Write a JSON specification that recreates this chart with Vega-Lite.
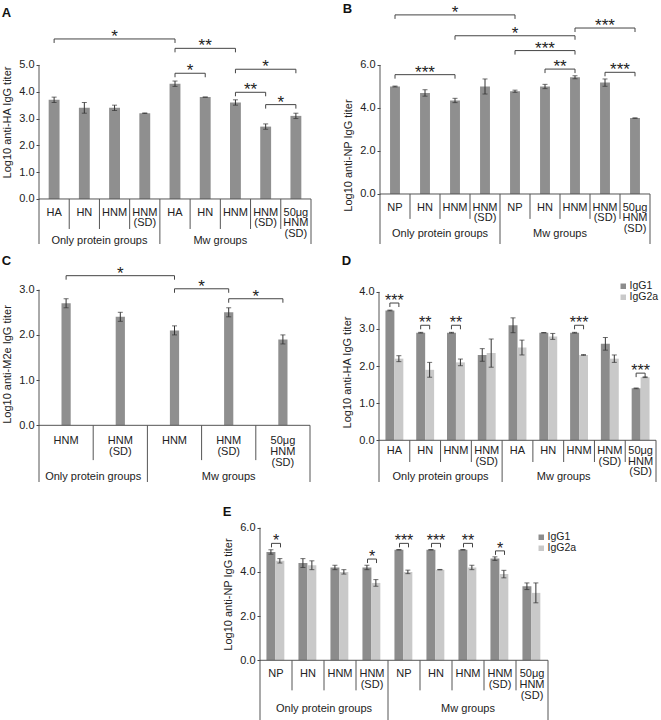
{
"$schema": "https://vega.github.io/schema/vega-lite/v6.json",
"padding": {"left": 1, "top": 2, "right": 0, "bottom": 0},
"config": {
  "font": "Liberation Sans",
  "view": {"stroke": null},
  "axis": {"labelFontSize": 11, "titleFontSize": 11, "titleFontWeight": "normal", "labelColor": "#222", "titleColor": "#222", "tickColor": "#444", "domain": false, "grid": false, "tickSize": 3, "labelPadding": 2, "titlePadding": 6},
  "text": {"color": "#222", "font": "Liberation Sans"},
  "title": {"fontSize": 13, "fontWeight": "bold", "color": "#111", "anchor": "start", "frame": "bounds", "offset": -12},
  "legend": {"labelFontSize": 10.5, "labelColor": "#222"}
},
"resolve": {"scale": {"color": "independent"}, "legend": {"color": "independent"}},
"datasets": {
  "A": [
    {"cat": "HA_p", "label": "HA", "group": "Only protein groups", "value": 3.7, "err": 0.1},
    {"cat": "HN_p", "label": "HN", "group": "Only protein groups", "value": 3.4, "err": 0.2},
    {"cat": "HNM_p", "label": "HNM", "group": "Only protein groups", "value": 3.4, "err": 0.1},
    {"cat": "HNMSD_p", "label": "HNM|(SD)", "group": "Only protein groups", "value": 3.2, "err": 0.01},
    {"cat": "HA_m", "label": "HA", "group": "Mw groups", "value": 4.3, "err": 0.1},
    {"cat": "HN_m", "label": "HN", "group": "Mw groups", "value": 3.8, "err": 0},
    {"cat": "HNM_m", "label": "HNM", "group": "Mw groups", "value": 3.6, "err": 0.1},
    {"cat": "HNMSD_m", "label": "HNM|(SD)", "group": "Mw groups", "value": 2.7, "err": 0.1},
    {"cat": "HNM50_m", "label": "50μg|HNM|(SD)", "group": "Mw groups", "value": 3.1, "err": 0.1}
  ],
  "A_br": [
    {"from": 0, "to": 4, "y": 5.97, "s": "*"},
    {"from": 4, "to": 6, "y": 5.62, "s": "**"},
    {"from": 4, "to": 5, "y": 4.69, "s": "*"},
    {"from": 6, "to": 8, "y": 4.84, "s": "*"},
    {"from": 6, "to": 7, "y": 3.98, "s": "**"},
    {"from": 7, "to": 8, "y": 3.52, "s": "*"}
  ],
  "B": [
    {"cat": "NP_p", "label": "NP", "group": "Only protein groups", "value": 5.0, "err": 0.02},
    {"cat": "HN_p", "label": "HN", "group": "Only protein groups", "value": 4.7, "err": 0.15},
    {"cat": "HNM_p", "label": "HNM", "group": "Only protein groups", "value": 4.35, "err": 0.1},
    {"cat": "HNMSD_p", "label": "HNM|(SD)", "group": "Only protein groups", "value": 5.0, "err": 0.35},
    {"cat": "NP_m", "label": "NP", "group": "Mw groups", "value": 4.78, "err": 0.05},
    {"cat": "HN_m", "label": "HN", "group": "Mw groups", "value": 5.0, "err": 0.1},
    {"cat": "HNM_m", "label": "HNM", "group": "Mw groups", "value": 5.43, "err": 0.07},
    {"cat": "HNMSD_m", "label": "HNM|(SD)", "group": "Mw groups", "value": 5.18, "err": 0.17},
    {"cat": "HNM50_m", "label": "50μg|HNM|(SD)", "group": "Mw groups", "value": 3.53, "err": 0.01}
  ],
  "B_br": [
    {"from": 0, "to": 4, "y": 8.33, "s": "*"},
    {"from": 2, "to": 6, "y": 7.36, "s": "*"},
    {"from": 6, "to": 8, "y": 7.72, "s": "***"},
    {"from": 4, "to": 6, "y": 6.67, "s": "***"},
    {"from": 5, "to": 6, "y": 5.81, "s": "**"},
    {"from": 7, "to": 8, "y": 5.66, "s": "***"},
    {"from": 0, "to": 2, "y": 5.55, "s": "***"}
  ],
  "C": [
    {"cat": "HNM_p", "label": "HNM", "group": "Only protein groups", "value": 2.7, "err": 0.1},
    {"cat": "HNMSD_p", "label": "HNM|(SD)", "group": "Only protein groups", "value": 2.4, "err": 0.1},
    {"cat": "HNM_m", "label": "HNM", "group": "Mw groups", "value": 2.1, "err": 0.1},
    {"cat": "HNMSD_m", "label": "HNM|(SD)", "group": "Mw groups", "value": 2.5, "err": 0.1},
    {"cat": "HNM50_m", "label": "50μg|HNM|(SD)", "group": "Mw groups", "value": 1.9, "err": 0.1}
  ],
  "C_br": [
    {"from": 0, "to": 2, "y": 3.31, "s": "*"},
    {"from": 2, "to": 3, "y": 3.02, "s": "*"},
    {"from": 3, "to": 4, "y": 2.8, "s": "*"}
  ],
  "D": [
    {"cat": "HA_p", "label": "HA", "group": "Only protein groups", "iso": "IgG1", "value": 3.5, "err": 0.01},
    {"cat": "HA_p", "label": "HA", "group": "Only protein groups", "iso": "IgG2a", "value": 2.2, "err": 0.08},
    {"cat": "HN_p", "label": "HN", "group": "Only protein groups", "iso": "IgG1", "value": 2.9, "err": 0.01},
    {"cat": "HN_p", "label": "HN", "group": "Only protein groups", "iso": "IgG2a", "value": 1.9, "err": 0.2},
    {"cat": "HNM_p", "label": "HNM", "group": "Only protein groups", "iso": "IgG1", "value": 2.9, "err": 0.01},
    {"cat": "HNM_p", "label": "HNM", "group": "Only protein groups", "iso": "IgG2a", "value": 2.1, "err": 0.09},
    {"cat": "HNMSD_p", "label": "HNM|(SD)", "group": "Only protein groups", "iso": "IgG1", "value": 2.3, "err": 0.17},
    {"cat": "HNMSD_p", "label": "HNM|(SD)", "group": "Only protein groups", "iso": "IgG2a", "value": 2.35, "err": 0.38},
    {"cat": "HA_m", "label": "HA", "group": "Mw groups", "iso": "IgG1", "value": 3.1, "err": 0.2},
    {"cat": "HA_m", "label": "HA", "group": "Mw groups", "iso": "IgG2a", "value": 2.5, "err": 0.2},
    {"cat": "HN_m", "label": "HN", "group": "Mw groups", "iso": "IgG1", "value": 2.9, "err": 0.005},
    {"cat": "HN_m", "label": "HN", "group": "Mw groups", "iso": "IgG2a", "value": 2.8, "err": 0.08},
    {"cat": "HNM_m", "label": "HNM", "group": "Mw groups", "iso": "IgG1", "value": 2.9, "err": 0.01},
    {"cat": "HNM_m", "label": "HNM", "group": "Mw groups", "iso": "IgG2a", "value": 2.3, "err": 0.01},
    {"cat": "HNMSD_m", "label": "HNM|(SD)", "group": "Mw groups", "iso": "IgG1", "value": 2.6, "err": 0.17},
    {"cat": "HNMSD_m", "label": "HNM|(SD)", "group": "Mw groups", "iso": "IgG2a", "value": 2.2, "err": 0.1},
    {"cat": "HNM50_m", "label": "50μg|HNM|(SD)", "group": "Mw groups", "iso": "IgG1", "value": 1.4, "err": 0.01},
    {"cat": "HNM50_m", "label": "50μg|HNM|(SD)", "group": "Mw groups", "iso": "IgG2a", "value": 1.7, "err": 0.01}
  ],
  "D_br": [
    {"i": 0, "y": 3.7, "s": "***"},
    {"i": 1, "y": 3.1, "s": "**"},
    {"i": 2, "y": 3.1, "s": "**"},
    {"i": 6, "y": 3.1, "s": "***"},
    {"i": 8, "y": 1.81, "s": "***"}
  ],
  "E": [
    {"cat": "NP_p", "label": "NP", "group": "Only protein groups", "iso": "IgG1", "value": 4.9, "err": 0.1},
    {"cat": "NP_p", "label": "NP", "group": "Only protein groups", "iso": "IgG2a", "value": 4.5, "err": 0.1},
    {"cat": "HN_p", "label": "HN", "group": "Only protein groups", "iso": "IgG1", "value": 4.4, "err": 0.2},
    {"cat": "HN_p", "label": "HN", "group": "Only protein groups", "iso": "IgG2a", "value": 4.3, "err": 0.2},
    {"cat": "HNM_p", "label": "HNM", "group": "Only protein groups", "iso": "IgG1", "value": 4.2, "err": 0.1},
    {"cat": "HNM_p", "label": "HNM", "group": "Only protein groups", "iso": "IgG2a", "value": 4.0, "err": 0.1},
    {"cat": "HNMSD_p", "label": "HNM|(SD)", "group": "Only protein groups", "iso": "IgG1", "value": 4.2, "err": 0.1},
    {"cat": "HNMSD_p", "label": "HNM|(SD)", "group": "Only protein groups", "iso": "IgG2a", "value": 3.5, "err": 0.15},
    {"cat": "NP_m", "label": "NP", "group": "Mw groups", "iso": "IgG1", "value": 5.0, "err": 0.01},
    {"cat": "NP_m", "label": "NP", "group": "Mw groups", "iso": "IgG2a", "value": 4.0, "err": 0.08},
    {"cat": "HN_m", "label": "HN", "group": "Mw groups", "iso": "IgG1", "value": 5.0, "err": 0.01},
    {"cat": "HN_m", "label": "HN", "group": "Mw groups", "iso": "IgG2a", "value": 4.1, "err": 0.01},
    {"cat": "HNM_m", "label": "HNM", "group": "Mw groups", "iso": "IgG1", "value": 5.0, "err": 0.01},
    {"cat": "HNM_m", "label": "HNM", "group": "Mw groups", "iso": "IgG2a", "value": 4.2, "err": 0.1},
    {"cat": "HNMSD_m", "label": "HNM|(SD)", "group": "Mw groups", "iso": "IgG1", "value": 4.6, "err": 0.08},
    {"cat": "HNMSD_m", "label": "HNM|(SD)", "group": "Mw groups", "iso": "IgG2a", "value": 3.9, "err": 0.17},
    {"cat": "HNM50_m", "label": "50μg|HNM|(SD)", "group": "Mw groups", "iso": "IgG1", "value": 3.35, "err": 0.15},
    {"cat": "HNM50_m", "label": "50μg|HNM|(SD)", "group": "Mw groups", "iso": "IgG2a", "value": 3.05, "err": 0.45}
  ],
  "E_br": [
    {"i": 0, "y": 5.29, "s": "*"},
    {"i": 3, "y": 4.58, "s": "*"},
    {"i": 4, "y": 5.29, "s": "***"},
    {"i": 5, "y": 5.29, "s": "***"},
    {"i": 6, "y": 5.29, "s": "**"},
    {"i": 7, "y": 4.95, "s": "*"}
  ],
  "one": [{}]
},
"spacing": 5,
"vconcat": [
{
 "resolve": {"scale": {"color": "independent"}, "legend": {"color": "independent"}},
 "hconcat": [
 {
  "title": {"text": "A"},
  "width": 272, "height": 236,
  "resolve": {"scale": {"x": "independent"}},
  "layer": [
   {"layer": [
     {"data": {"name": "A"}, "mark": {"type": "bar", "width": {"band": 0.36}, "color": "#8f8f8f"},
      "encoding": {
        "x": {"field": "cat", "type": "nominal", "scale": {"domain": ["HA_p","HN_p","HNM_p","HNMSD_p","HA_m","HN_m","HNM_m","HNMSD_m","HNM50_m"], "paddingInner": 0, "paddingOuter": 0}, "axis": null},
        "y": {"field": "value", "type": "quantitative", "scale": {"domain": [-1.68, 7.125], "nice": false, "zero": false}, "axis": {"title": "Log10 anti-HA IgG titer", "values": [0,0.5,1,1.5,2,2.5,3,3.5,4,4.5,5], "format": ".1f", "titleY": 114}}}},
     {"data": {"name": "A"}, "mark": {"type": "errorbar", "ticks": {"size": 5}, "color": "#333"},
      "encoding": {"x": {"field": "cat", "type": "nominal"}, "y": {"field": "value", "type": "quantitative", "title": "Log10 anti-HA IgG titer"}, "yError": {"field": "err"}}},
     {"data": {"name": "one"}, "mark": {"type": "rule", "color": "#555"}, "encoding": {"y": {"datum": 0}}},
     {"data": {"name": "A"}, "transform": [{"window": [{"op": "row_number", "as": "rn"}]}, {"filter": "datum.rn == 1"}],
      "mark": {"type": "rule", "color": "#555"},
      "encoding": {"x": {"field": "cat", "type": "nominal", "bandPosition": 0}, "y": {"datum": 5}, "y2": {"datum": -1.68}}},
     {"data": {"name": "A"}, "transform": [{"window": [{"op": "row_number", "as": "g"}], "groupby": ["group"]}, {"filter": "datum.g > 1"}],
      "mark": {"type": "rule", "color": "#555"},
      "encoding": {"x": {"field": "cat", "type": "nominal", "bandPosition": 0}, "y": {"datum": 0}, "y2": {"datum": -1.12}}},
     {"data": {"name": "A"}, "transform": [{"window": [{"op": "row_number", "as": "rn"}]}, {"window": [{"op": "row_number", "as": "g"}], "groupby": ["group"]}, {"filter": "datum.g == 1 && datum.rn > 1"}],
      "mark": {"type": "rule", "color": "#555"},
      "encoding": {"x": {"field": "cat", "type": "nominal", "bandPosition": 0}, "y": {"datum": 0}, "y2": {"datum": -1.68}}},
     {"data": {"name": "A"}, "transform": [{"window": [{"op": "row_number", "as": "rn"}]}, {"joinaggregate": [{"op": "count", "as": "n"}]}, {"filter": "datum.rn == datum.n"}],
      "mark": {"type": "rule", "color": "#555"},
      "encoding": {"x": {"field": "cat", "type": "nominal", "bandPosition": 1}, "y": {"datum": 0}, "y2": {"datum": -1.68}}},
     {"data": {"name": "A"}, "mark": {"type": "text", "baseline": "top", "dy": 8, "lineBreak": "|", "lineHeight": 10.5, "fontSize": 11},
      "encoding": {"x": {"field": "cat", "type": "nominal"}, "y": {"datum": 0}, "text": {"field": "label"}}}
   ]},
   {"layer": [
     {"data": {"name": "A_br"}, "mark": {"type": "rule", "color": "#444"},
      "encoding": {"x": {"field": "from", "type": "quantitative", "scale": {"domain": [-0.5, 8.5], "nice": false, "zero": false}, "axis": null}, "x2": {"field": "to"}, "y": {"field": "y", "type": "quantitative"}}},
     {"data": {"name": "A_br"}, "transform": [{"fold": ["from", "to"], "as": ["k", "end"]}], "mark": {"type": "rule", "color": "#444", "y2Offset": 4},
      "encoding": {"x": {"field": "end", "type": "quantitative"}, "y": {"field": "y", "type": "quantitative"}, "y2": {"field": "y"}}},
     {"data": {"name": "A_br"}, "transform": [{"calculate": "(datum.from + datum.to) / 2", "as": "mid"}], "mark": {"type": "text", "fontSize": 17, "dy": 3, "baseline": "alphabetic"},
      "encoding": {"x": {"field": "mid", "type": "quantitative"}, "y": {"field": "y", "type": "quantitative"}, "text": {"field": "s"}}},
     {"data": {"name": "A"}, "transform": [{"window": [{"op": "row_number", "as": "rn"}]}, {"calculate": "datum.rn - 1", "as": "idx"}, {"filter": "datum.label != '50μg|HNM|(SD)'"}, {"aggregate": [{"op": "mean", "field": "idx", "as": "idx"}], "groupby": ["group"]}],
      "mark": {"type": "text", "fontSize": 11, "baseline": "middle"},
      "encoding": {"x": {"field": "idx", "type": "quantitative"}, "y": {"datum": -1.57}, "text": {"field": "group"}}}
   ]}
  ]
 },
 {
  "title": {"text": "B"},
  "width": 270, "height": 236,
  "resolve": {"scale": {"x": "independent"}},
  "layer": [
   {"layer": [
     {"data": {"name": "B"}, "mark": {"type": "bar", "width": {"band": 0.33}, "color": "#8f8f8f"},
      "encoding": {
        "x": {"field": "cat", "type": "nominal", "scale": {"domain": ["NP_p","HN_p","HNM_p","HNMSD_p","NP_m","HN_m","HNM_m","HNMSD_m","HNM50_m"], "paddingInner": 0, "paddingOuter": 0}, "axis": null},
        "y": {"field": "value", "type": "quantitative", "scale": {"domain": [-2.326, 8.651], "nice": false, "zero": false}, "axis": {"title": "Log10 anti-NP IgG titer", "values": [0,1,2,3,4,5,6], "format": ".1f", "titleY": 147}}}},
     {"data": {"name": "B"}, "mark": {"type": "errorbar", "ticks": {"size": 5}, "color": "#333"},
      "encoding": {"x": {"field": "cat", "type": "nominal"}, "y": {"field": "value", "type": "quantitative", "title": "Log10 anti-NP IgG titer"}, "yError": {"field": "err"}}},
     {"data": {"name": "one"}, "mark": {"type": "rule", "color": "#555"}, "encoding": {"y": {"datum": 0}}},
     {"data": {"name": "B"}, "transform": [{"window": [{"op": "row_number", "as": "rn"}]}, {"filter": "datum.rn == 1"}],
      "mark": {"type": "rule", "color": "#555"},
      "encoding": {"x": {"field": "cat", "type": "nominal", "bandPosition": 0}, "y": {"datum": 6}, "y2": {"datum": -2.326}}},
     {"data": {"name": "B"}, "transform": [{"window": [{"op": "row_number", "as": "g"}], "groupby": ["group"]}, {"filter": "datum.g > 1"}],
      "mark": {"type": "rule", "color": "#555"},
      "encoding": {"x": {"field": "cat", "type": "nominal", "bandPosition": 0}, "y": {"datum": 0}, "y2": {"datum": -1.16}}},
     {"data": {"name": "B"}, "transform": [{"window": [{"op": "row_number", "as": "rn"}]}, {"window": [{"op": "row_number", "as": "g"}], "groupby": ["group"]}, {"filter": "datum.g == 1 && datum.rn > 1"}],
      "mark": {"type": "rule", "color": "#555"},
      "encoding": {"x": {"field": "cat", "type": "nominal", "bandPosition": 0}, "y": {"datum": 0}, "y2": {"datum": -2.326}}},
     {"data": {"name": "B"}, "transform": [{"window": [{"op": "row_number", "as": "rn"}]}, {"joinaggregate": [{"op": "count", "as": "n"}]}, {"filter": "datum.rn == datum.n"}],
      "mark": {"type": "rule", "color": "#555"},
      "encoding": {"x": {"field": "cat", "type": "nominal", "bandPosition": 1}, "y": {"datum": 0}, "y2": {"datum": -2.326}}},
     {"data": {"name": "B"}, "mark": {"type": "text", "baseline": "top", "dy": 8, "lineBreak": "|", "lineHeight": 10.5, "fontSize": 11},
      "encoding": {"x": {"field": "cat", "type": "nominal"}, "y": {"datum": 0}, "text": {"field": "label"}}}
   ]},
   {"layer": [
     {"data": {"name": "B_br"}, "mark": {"type": "rule", "color": "#444"},
      "encoding": {"x": {"field": "from", "type": "quantitative", "scale": {"domain": [-0.5, 8.5], "nice": false, "zero": false}, "axis": null}, "x2": {"field": "to"}, "y": {"field": "y", "type": "quantitative"}}},
     {"data": {"name": "B_br"}, "transform": [{"fold": ["from", "to"], "as": ["k", "end"]}], "mark": {"type": "rule", "color": "#444", "y2Offset": 4},
      "encoding": {"x": {"field": "end", "type": "quantitative"}, "y": {"field": "y", "type": "quantitative"}, "y2": {"field": "y"}}},
     {"data": {"name": "B_br"}, "transform": [{"calculate": "(datum.from + datum.to) / 2", "as": "mid"}], "mark": {"type": "text", "fontSize": 17, "dy": 3, "baseline": "alphabetic"},
      "encoding": {"x": {"field": "mid", "type": "quantitative"}, "y": {"field": "y", "type": "quantitative"}, "text": {"field": "s"}}},
     {"data": {"name": "B"}, "transform": [{"window": [{"op": "row_number", "as": "rn"}]}, {"calculate": "datum.rn - 1", "as": "idx"}, {"filter": "datum.label != '50μg|HNM|(SD)'"}, {"aggregate": [{"op": "mean", "field": "idx", "as": "idx"}], "groupby": ["group"]}],
      "mark": {"type": "text", "fontSize": 11, "baseline": "middle"},
      "encoding": {"x": {"field": "idx", "type": "quantitative"}, "y": {"datum": -1.86}, "text": {"field": "group"}}}
   ]}
  ]
 }
 ],
 "spacing": 69, "bounds": "flush"
},
{
 "resolve": {"scale": {"color": "independent"}, "legend": {"color": "independent"}},
 "hconcat": [
 {
  "title": {"text": "C", "offset": -16},
  "width": 271, "height": 230,
  "resolve": {"scale": {"x": "independent"}},
  "layer": [
   {"layer": [
     {"data": {"name": "C"}, "mark": {"type": "bar", "width": {"band": 0.17}, "color": "#8f8f8f"},
      "encoding": {
        "x": {"field": "cat", "type": "nominal", "scale": {"domain": ["HNM_p","HNMSD_p","HNM_m","HNMSD_m","HNM50_m"], "paddingInner": 0, "paddingOuter": 0}, "axis": null},
        "y": {"field": "value", "type": "quantitative", "scale": {"domain": [-1.254, 3.834], "nice": false, "zero": false}, "axis": {"title": "Log10 anti-M2e IgG titer", "values": [0,0.5,1,1.5,2,2.5,3], "format": ".1f", "titleY": 112}}}},
     {"data": {"name": "C"}, "mark": {"type": "errorbar", "ticks": {"size": 5}, "color": "#333"},
      "encoding": {"x": {"field": "cat", "type": "nominal"}, "y": {"field": "value", "type": "quantitative", "title": "Log10 anti-M2e IgG titer"}, "yError": {"field": "err"}}},
     {"data": {"name": "one"}, "mark": {"type": "rule", "color": "#555"}, "encoding": {"y": {"datum": 0}}},
     {"data": {"name": "C"}, "transform": [{"window": [{"op": "row_number", "as": "rn"}]}, {"filter": "datum.rn == 1"}],
      "mark": {"type": "rule", "color": "#555"},
      "encoding": {"x": {"field": "cat", "type": "nominal", "bandPosition": 0}, "y": {"datum": 3}, "y2": {"datum": -1.254}}},
     {"data": {"name": "C"}, "transform": [{"window": [{"op": "row_number", "as": "g"}], "groupby": ["group"]}, {"filter": "datum.g > 1"}],
      "mark": {"type": "rule", "color": "#555"},
      "encoding": {"x": {"field": "cat", "type": "nominal", "bandPosition": 0}, "y": {"datum": 0}, "y2": {"datum": -0.77}}},
     {"data": {"name": "C"}, "transform": [{"window": [{"op": "row_number", "as": "rn"}]}, {"window": [{"op": "row_number", "as": "g"}], "groupby": ["group"]}, {"filter": "datum.g == 1 && datum.rn > 1"}],
      "mark": {"type": "rule", "color": "#555"},
      "encoding": {"x": {"field": "cat", "type": "nominal", "bandPosition": 0}, "y": {"datum": 0}, "y2": {"datum": -1.254}}},
     {"data": {"name": "C"}, "transform": [{"window": [{"op": "row_number", "as": "rn"}]}, {"joinaggregate": [{"op": "count", "as": "n"}]}, {"filter": "datum.rn == datum.n"}],
      "mark": {"type": "rule", "color": "#555"},
      "encoding": {"x": {"field": "cat", "type": "nominal", "bandPosition": 1}, "y": {"datum": 0}, "y2": {"datum": -1.254}}},
     {"data": {"name": "C"}, "mark": {"type": "text", "baseline": "top", "dy": 10, "lineBreak": "|", "lineHeight": 11, "fontSize": 11},
      "encoding": {"x": {"field": "cat", "type": "nominal"}, "y": {"datum": 0}, "text": {"field": "label"}}}
   ]},
   {"layer": [
     {"data": {"name": "C_br"}, "mark": {"type": "rule", "color": "#444"},
      "encoding": {"x": {"field": "from", "type": "quantitative", "scale": {"domain": [-0.5, 4.5], "nice": false, "zero": false}, "axis": null}, "x2": {"field": "to"}, "y": {"field": "y", "type": "quantitative"}}},
     {"data": {"name": "C_br"}, "transform": [{"fold": ["from", "to"], "as": ["k", "end"]}], "mark": {"type": "rule", "color": "#444", "y2Offset": 4},
      "encoding": {"x": {"field": "end", "type": "quantitative"}, "y": {"field": "y", "type": "quantitative"}, "y2": {"field": "y"}}},
     {"data": {"name": "C_br"}, "transform": [{"calculate": "(datum.from + datum.to) / 2", "as": "mid"}], "mark": {"type": "text", "fontSize": 17, "dy": 3, "baseline": "alphabetic"},
      "encoding": {"x": {"field": "mid", "type": "quantitative"}, "y": {"field": "y", "type": "quantitative"}, "text": {"field": "s"}}},
     {"data": {"name": "C"}, "transform": [{"window": [{"op": "row_number", "as": "rn"}]}, {"calculate": "datum.rn - 1", "as": "idx"}, {"aggregate": [{"op": "mean", "field": "idx", "as": "idx"}], "groupby": ["group"]}],
      "mark": {"type": "text", "fontSize": 11, "baseline": "middle"},
      "encoding": {"x": {"field": "idx", "type": "quantitative"}, "y": {"datum": -1.14}, "text": {"field": "group"}}}
   ]}
  ]
 },
 {
  "title": {"text": "D", "offset": -16},
  "width": 277, "height": 230,
  "resolve": {"scale": {"x": "independent"}},
  "layer": [
   {"layer": [
     {"data": {"name": "D"}, "mark": {"type": "bar"},
      "encoding": {
        "x": {"field": "cat", "type": "nominal", "scale": {"domain": ["HA_p","HN_p","HNM_p","HNMSD_p","HA_m","HN_m","HNM_m","HNMSD_m","HNM50_m"], "paddingInner": 0, "paddingOuter": 0}, "axis": null},
        "xOffset": {"field": "iso", "type": "nominal", "scale": {"domain": ["IgG1", "IgG2a"], "paddingOuter": 0.72, "paddingInner": 0}},
        "color": {"field": "iso", "type": "nominal", "scale": {"domain": ["IgG1", "IgG2a"], "range": ["#8c8c8c", "#c9c9c9"]}, "legend": {"title": null, "orient": "none", "legendX": 239, "legendY": 29, "symbolType": "square", "symbolSize": 30, "labelOffset": 1, "rowPadding": -2}},
        "y": {"field": "value", "type": "quantitative", "scale": {"domain": [-1.124, 5.075], "nice": false, "zero": false}, "axis": {"title": "Log10 anti-HA IgG titer", "values": [0,0.5,1,1.5,2,2.5,3,3.5,4], "format": ".1f", "titleY": 120}}}},
     {"data": {"name": "D"}, "mark": {"type": "errorbar", "ticks": {"size": 5}, "color": "#333"},
      "encoding": {"x": {"field": "cat", "type": "nominal"}, "xOffset": {"field": "iso", "type": "nominal"}, "y": {"field": "value", "type": "quantitative", "title": "Log10 anti-HA IgG titer"}, "yError": {"field": "err"}}},
     {"data": {"name": "one"}, "mark": {"type": "rule", "color": "#555"}, "encoding": {"y": {"datum": 0}}},
     {"data": {"name": "D"}, "transform": [{"filter": "datum.iso == 'IgG1'"}, {"window": [{"op": "row_number", "as": "rn"}]}, {"filter": "datum.rn == 1"}],
      "mark": {"type": "rule", "color": "#555"},
      "encoding": {"x": {"field": "cat", "type": "nominal", "bandPosition": 0}, "y": {"datum": 4}, "y2": {"datum": -1.124}}},
     {"data": {"name": "D"}, "transform": [{"filter": "datum.iso == 'IgG1'"}, {"window": [{"op": "row_number", "as": "g"}], "groupby": ["group"]}, {"filter": "datum.g > 1"}],
      "mark": {"type": "rule", "color": "#555"},
      "encoding": {"x": {"field": "cat", "type": "nominal", "bandPosition": 0}, "y": {"datum": 0}, "y2": {"datum": -0.585}}},
     {"data": {"name": "D"}, "transform": [{"filter": "datum.iso == 'IgG1'"}, {"window": [{"op": "row_number", "as": "rn"}]}, {"window": [{"op": "row_number", "as": "g"}], "groupby": ["group"]}, {"filter": "datum.g == 1 && datum.rn > 1"}],
      "mark": {"type": "rule", "color": "#555"},
      "encoding": {"x": {"field": "cat", "type": "nominal", "bandPosition": 0}, "y": {"datum": 0}, "y2": {"datum": -1.124}}},
     {"data": {"name": "D"}, "transform": [{"filter": "datum.iso == 'IgG1'"}, {"window": [{"op": "row_number", "as": "rn"}]}, {"joinaggregate": [{"op": "count", "as": "n"}]}, {"filter": "datum.rn == datum.n"}],
      "mark": {"type": "rule", "color": "#555"},
      "encoding": {"x": {"field": "cat", "type": "nominal", "bandPosition": 1}, "y": {"datum": 0}, "y2": {"datum": -1.124}}},
     {"data": {"name": "D"}, "transform": [{"filter": "datum.iso == 'IgG1'"}], "mark": {"type": "text", "baseline": "top", "dy": 5, "lineBreak": "|", "lineHeight": 10.5, "fontSize": 11},
      "encoding": {"x": {"field": "cat", "type": "nominal"}, "y": {"datum": 0}, "text": {"field": "label"}}}
   ]},
   {"layer": [
     {"data": {"name": "D_br"}, "mark": {"type": "rule", "color": "#444", "xOffset": -4.5, "x2Offset": 4.5},
      "encoding": {"x": {"field": "i", "type": "quantitative", "scale": {"domain": [-0.5, 8.5], "nice": false, "zero": false}, "axis": null}, "x2": {"field": "i"}, "y": {"field": "y", "type": "quantitative"}}},
     {"data": {"name": "D_br"}, "mark": {"type": "rule", "color": "#444", "xOffset": -4.5, "y2Offset": 4},
      "encoding": {"x": {"field": "i", "type": "quantitative"}, "y": {"field": "y", "type": "quantitative"}, "y2": {"field": "y"}}},
     {"data": {"name": "D_br"}, "mark": {"type": "rule", "color": "#444", "xOffset": 4.5, "y2Offset": 4},
      "encoding": {"x": {"field": "i", "type": "quantitative"}, "y": {"field": "y", "type": "quantitative"}, "y2": {"field": "y"}}},
     {"data": {"name": "D_br"}, "mark": {"type": "text", "fontSize": 16, "dy": 3, "baseline": "alphabetic"},
      "encoding": {"x": {"field": "i", "type": "quantitative"}, "y": {"field": "y", "type": "quantitative"}, "text": {"field": "s"}}},
     {"data": {"name": "D"}, "transform": [{"filter": "datum.iso == 'IgG1'"}, {"window": [{"op": "row_number", "as": "rn"}]}, {"calculate": "datum.rn - 1", "as": "idx"}, {"filter": "datum.label != '50μg|HNM|(SD)'"}, {"aggregate": [{"op": "mean", "field": "idx", "as": "idx"}], "groupby": ["group"]}],
      "mark": {"type": "text", "fontSize": 11, "baseline": "middle"},
      "encoding": {"x": {"field": "idx", "type": "quantitative"}, "y": {"datum": -0.99}, "text": {"field": "group"}}}
   ]}
  ]
 }
 ],
 "spacing": 69, "bounds": "flush"
},
{
 "resolve": {"scale": {"color": "independent"}, "legend": {"color": "independent"}},
 "hconcat": [
 {"width": 221, "height": 10, "data": {"values": []}, "mark": "point"},
 {
  "title": {"text": "E", "offset": -31},
  "width": 288, "height": 233,
  "resolve": {"scale": {"x": "independent"}},
  "layer": [
   {"layer": [
     {"data": {"name": "E"}, "mark": {"type": "bar"},
      "encoding": {
        "x": {"field": "cat", "type": "nominal", "scale": {"domain": ["NP_p","HN_p","HNM_p","HNMSD_p","NP_m","HN_m","HNM_m","HNMSD_m","HNM50_m"], "paddingInner": 0, "paddingOuter": 0}, "axis": null},
        "xOffset": {"field": "iso", "type": "nominal", "scale": {"domain": ["IgG1", "IgG2a"], "paddingOuter": 0.75, "paddingInner": 0}},
        "color": {"field": "iso", "type": "nominal", "scale": {"domain": ["IgG1", "IgG2a"], "range": ["#8c8c8c", "#c9c9c9"]}, "legend": {"title": null, "orient": "none", "legendX": 276, "legendY": 44, "symbolType": "square", "symbolSize": 30, "labelOffset": 1, "rowPadding": -2}},
        "y": {"field": "value", "type": "quantitative", "scale": {"domain": [-2.747, 7.795], "nice": false, "zero": false}, "axis": {"title": "Log10 anti-NP IgG titer", "values": [0,1,2,3,4,5,6], "format": ".1f", "titleY": 106}}}},
     {"data": {"name": "E"}, "mark": {"type": "errorbar", "ticks": {"size": 5}, "color": "#333"},
      "encoding": {"x": {"field": "cat", "type": "nominal"}, "xOffset": {"field": "iso", "type": "nominal"}, "y": {"field": "value", "type": "quantitative", "title": "Log10 anti-NP IgG titer"}, "yError": {"field": "err"}}},
     {"data": {"name": "one"}, "mark": {"type": "rule", "color": "#555"}, "encoding": {"y": {"datum": 0}}},
     {"data": {"name": "E"}, "transform": [{"filter": "datum.iso == 'IgG1'"}, {"window": [{"op": "row_number", "as": "rn"}]}, {"filter": "datum.rn == 1"}],
      "mark": {"type": "rule", "color": "#555"},
      "encoding": {"x": {"field": "cat", "type": "nominal", "bandPosition": 0}, "y": {"datum": 6}, "y2": {"datum": -2.747}}},
     {"data": {"name": "E"}, "transform": [{"filter": "datum.iso == 'IgG1'"}, {"window": [{"op": "row_number", "as": "g"}], "groupby": ["group"]}, {"filter": "datum.g > 1"}],
      "mark": {"type": "rule", "color": "#555"},
      "encoding": {"x": {"field": "cat", "type": "nominal", "bandPosition": 0}, "y": {"datum": 0}, "y2": {"datum": -1.36}}},
     {"data": {"name": "E"}, "transform": [{"filter": "datum.iso == 'IgG1'"}, {"window": [{"op": "row_number", "as": "rn"}]}, {"window": [{"op": "row_number", "as": "g"}], "groupby": ["group"]}, {"filter": "datum.g == 1 && datum.rn > 1"}],
      "mark": {"type": "rule", "color": "#555"},
      "encoding": {"x": {"field": "cat", "type": "nominal", "bandPosition": 0}, "y": {"datum": 0}, "y2": {"datum": -2.747}}},
     {"data": {"name": "E"}, "transform": [{"filter": "datum.iso == 'IgG1'"}, {"window": [{"op": "row_number", "as": "rn"}]}, {"joinaggregate": [{"op": "count", "as": "n"}]}, {"filter": "datum.rn == datum.n"}],
      "mark": {"type": "rule", "color": "#555"},
      "encoding": {"x": {"field": "cat", "type": "nominal", "bandPosition": 1}, "y": {"datum": 0}, "y2": {"datum": -2.747}}},
     {"data": {"name": "E"}, "transform": [{"filter": "datum.iso == 'IgG1'"}], "mark": {"type": "text", "baseline": "top", "dy": 8, "lineBreak": "|", "lineHeight": 11, "fontSize": 11},
      "encoding": {"x": {"field": "cat", "type": "nominal"}, "y": {"datum": 0}, "text": {"field": "label"}}}
   ]},
   {"layer": [
     {"data": {"name": "E_br"}, "mark": {"type": "rule", "color": "#444", "xOffset": -4.5, "x2Offset": 4.5},
      "encoding": {"x": {"field": "i", "type": "quantitative", "scale": {"domain": [-0.5, 8.5], "nice": false, "zero": false}, "axis": null}, "x2": {"field": "i"}, "y": {"field": "y", "type": "quantitative"}}},
     {"data": {"name": "E_br"}, "mark": {"type": "rule", "color": "#444", "xOffset": -4.5, "y2Offset": 4},
      "encoding": {"x": {"field": "i", "type": "quantitative"}, "y": {"field": "y", "type": "quantitative"}, "y2": {"field": "y"}}},
     {"data": {"name": "E_br"}, "mark": {"type": "rule", "color": "#444", "xOffset": 4.5, "y2Offset": 4},
      "encoding": {"x": {"field": "i", "type": "quantitative"}, "y": {"field": "y", "type": "quantitative"}, "y2": {"field": "y"}}},
     {"data": {"name": "E_br"}, "mark": {"type": "text", "fontSize": 16, "dy": 3, "baseline": "alphabetic"},
      "encoding": {"x": {"field": "i", "type": "quantitative"}, "y": {"field": "y", "type": "quantitative"}, "text": {"field": "s"}}},
     {"data": {"name": "E"}, "transform": [{"filter": "datum.iso == 'IgG1'"}, {"window": [{"op": "row_number", "as": "rn"}]}, {"calculate": "datum.rn - 1", "as": "idx"}, {"aggregate": [{"op": "mean", "field": "idx", "as": "idx"}], "groupby": ["group"]}],
      "mark": {"type": "text", "fontSize": 11, "baseline": "middle"},
      "encoding": {"x": {"field": "idx", "type": "quantitative"}, "y": {"datum": -2.19}, "text": {"field": "group"}}}
   ]}
  ]
 }
 ],
 "spacing": 0, "bounds": "flush"
}
]
}
